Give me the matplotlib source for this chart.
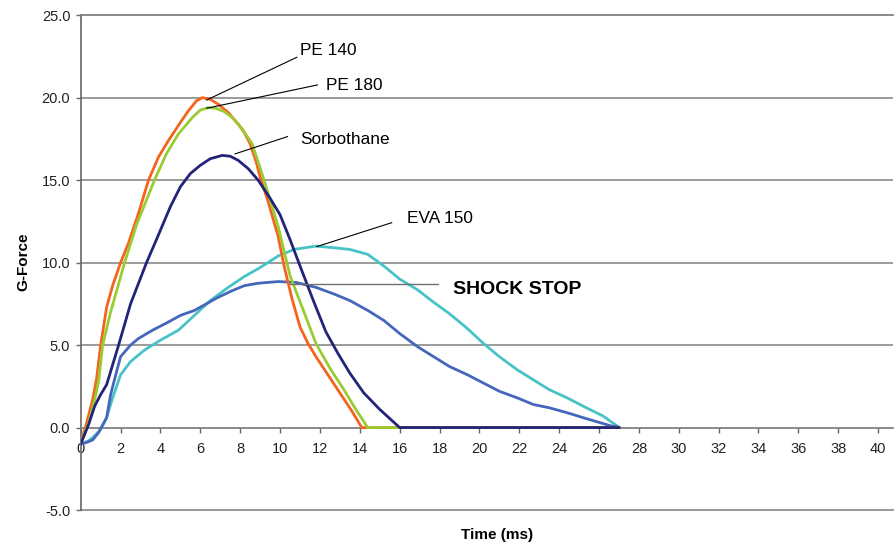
import matplotlib
matplotlib.use("Agg")
import matplotlib.pyplot as plt

plt.rcParams['font.family'] = ['Liberation Sans', 'DejaVu Sans']

# tiempo (ms) y fuerza G
t_pe140 = [0, 0.3, 0.6, 0.8, 1.0, 1.3, 1.6, 2.0, 2.4, 2.9, 3.4, 3.9, 4.4, 5.0, 5.4, 5.8, 6.1, 6.5, 6.9,
           7.4, 7.9, 8.2, 8.5, 8.8, 9.0, 9.4, 9.9, 10.2, 10.6, 11.0, 11.4, 11.8, 12.4, 13.0, 13.6, 14.1, 27]
g_pe140 = [-1, 0.3, 1.7, 3.0, 5.0, 7.3, 8.6, 10.0, 11.2, 13.0, 15.0, 16.4, 17.4, 18.5, 19.2, 19.8, 20.0, 19.9, 19.6,
           19.1, 18.4, 17.9, 17.2, 16.1, 15.2, 13.7, 11.6, 9.8, 7.8, 6.1, 5.1, 4.3, 3.2, 2.1, 1.0, 0, 0]

t_pe180 = [0, 0.4, 0.7, 0.9, 1.1, 1.5, 2.2, 2.8, 3.7, 4.3, 4.9, 5.6, 6.0, 6.4, 6.8, 7.2, 7.6, 8.1, 8.6, 9.2,
           9.5, 9.9, 10.5, 11.2, 11.8, 12.5, 13.2, 13.8, 14.4, 27]
g_pe180 = [-1, 0.3, 1.7, 2.8, 5.0, 7.0, 10.0, 12.3, 15.0, 16.6, 17.8, 18.8, 19.25, 19.4, 19.35, 19.15, 18.8, 18.1, 17.2, 15.0,
           13.8, 12.2, 9.2, 7.0, 5.1, 3.6, 2.3, 1.1, 0, 0]

t_sorbo = [0, 0.4, 0.7, 1.0, 1.3, 1.9, 2.5, 3.3, 3.8, 4.5, 5.0, 5.5, 6.0, 6.5, 7.1, 7.5, 7.9, 8.4, 8.9,
           9.5, 10.0, 10.5, 11.0, 11.7, 12.3, 12.9, 13.5, 14.2, 15.0, 16.0, 27]
g_sorbo = [-1, 0.2, 1.3, 2.0, 2.6, 5.0, 7.5, 10.0, 11.4, 13.4, 14.6, 15.4, 15.9, 16.3, 16.5, 16.45, 16.2, 15.7, 15.0,
           13.9, 12.9, 11.4, 9.8, 7.6, 5.8, 4.5, 3.3, 2.1, 1.1, 0, 0]

t_eva = [0, 0.4, 0.7, 1.0, 1.3, 1.6, 2.0, 2.5, 3.2, 4.0, 4.9, 5.7, 6.5, 7.4, 8.2, 9.0, 9.9, 10.7,
         11.8, 12.7, 13.5, 14.4, 15.2, 16.0, 16.9, 17.7, 18.5, 19.4, 20.2, 21.0, 21.9, 22.7, 23.5,
         24.4, 25.2, 26.2, 26.9]
g_eva = [-1, -0.8, -0.5, -0.1, 0.6, 1.8, 3.2, 4.0, 4.7, 5.3, 5.9, 6.8, 7.7, 8.5, 9.15, 9.7, 10.4, 10.8,
         11.0, 10.9, 10.8, 10.5, 9.8, 9.0, 8.35, 7.6, 6.9, 6.0, 5.1, 4.3, 3.5, 2.9, 2.3,
         1.8, 1.3, 0.7, 0.1]

t_shock = [0, 0.3, 0.6, 0.9, 1.3, 1.5, 1.8, 2.0, 2.5, 2.9, 3.6, 4.4, 5.0, 5.7, 6.3, 6.9, 7.6, 8.2,
           8.9, 9.9, 10.8, 11.8, 12.7, 13.5, 14.4, 15.2, 16.0, 16.9, 17.7, 18.5, 19.4, 20.2, 21.0,
           21.9, 22.7, 23.5, 24.4, 25.2, 25.9, 26.6, 26.9]
g_shock = [-1, -0.9, -0.75, -0.3, 0.6, 2.0, 3.4, 4.3, 5.0, 5.4, 5.9, 6.4, 6.8, 7.1, 7.5, 7.9, 8.3, 8.6,
           8.75, 8.85, 8.8, 8.5, 8.1, 7.7, 7.1, 6.5, 5.7, 4.9, 4.3, 3.7, 3.2, 2.7, 2.2,
           1.8, 1.4, 1.2, 0.9, 0.6, 0.35, 0.1, 0.05]

x_ticks = list(range(0, 41, 2))
y_ticks = [-5, 0, 5, 10, 15, 20, 25]

fig = plt.figure(figsize=(8.96, 5.47), dpi=100)
ax = fig.add_axes([0.0901, 0.0676, 0.9066, 0.9046])

# lineas horizontales de la cuadricula
for y in [5, 10, 15, 20]:
    ax.axhline(y, color='#808080', lw=1.1, zorder=1)
ax.axhline(-5, color='#909090', lw=1.3, clip_on=False, zorder=1)

ax.plot(t_eva, g_eva, color='#47C3C8', lw=2, zorder=3)
ax.plot(t_shock, g_shock, color='#4466BB', lw=2, zorder=3)
ax.plot(t_pe140, g_pe140, color='#F5631E', lw=2, zorder=4)
ax.plot(t_pe180, g_pe180, color='#99CC33', lw=2, zorder=4)
ax.plot(t_sorbo, g_sorbo, color='#23237A', lw=2, zorder=4)

# etiquetas con lineas guia
ax.plot([6.32, 10.84], [19.86, 22.45], color='black', lw=0.8, zorder=5)
ax.text(11.0, 22.89, 'PE 140', fontsize=12.4, va='center')
ax.plot([6.32, 11.87], [19.36, 20.77], color='black', lw=0.8, zorder=5)
ax.text(12.29, 20.71, 'PE 180', fontsize=12.4, va='center')
ax.plot([7.74, 10.37], [16.59, 17.64], color='black', lw=0.8, zorder=5)
ax.text(11.0, 17.48, 'Sorbothane', fontsize=12.4, va='center')
ax.plot([11.84, 15.6], [10.97, 12.42], color='black', lw=0.8, zorder=5)
ax.text(16.36, 12.69, 'EVA 150', fontsize=12.4, va='center')
ax.plot([10.5, 17.9], [8.71, 8.71], color='#707070', lw=1, zorder=5)
ax.text(18.66, 8.39, 'SHOCK STOP', fontsize=14, fontweight='bold', va='center')

ax.set_xlim(0, 40.75)
ax.set_ylim(-5, 25)
ax.set_xticks(x_ticks)
ax.set_yticks(y_ticks)
ax.set_yticklabels(['%.1f' % v for v in y_ticks])

ax.spines['bottom'].set_position(('data', 0))
ax.spines['bottom'].set_color('#808080')
ax.spines['bottom'].set_linewidth(1.3)
ax.spines['left'].set_color('#666666')
ax.spines['left'].set_linewidth(1.2)
ax.spines['top'].set_color('#808080')
ax.spines['top'].set_linewidth(1.3)
ax.spines['right'].set_visible(False)

ax.tick_params(axis='x', direction='out', length=3.5, width=1, color='#666666',
               labelsize=10.5, pad=7, labelcolor='#222222')
ax.tick_params(axis='y', direction='out', length=3.5, width=1, color='#666666',
               labelsize=10.5, pad=4, labelcolor='#222222')

fig.text(23 / 896, 1 - 261.7 / 547, 'G-Force', rotation=90, fontsize=11, fontweight='bold',
         ha='center', va='center')
fig.text(497.5 / 896, 1 - 535.5 / 547, 'Time (ms)', fontsize=11, fontweight='bold',
         ha='center', va='center')

fig.savefig('out.png', dpi=100)
